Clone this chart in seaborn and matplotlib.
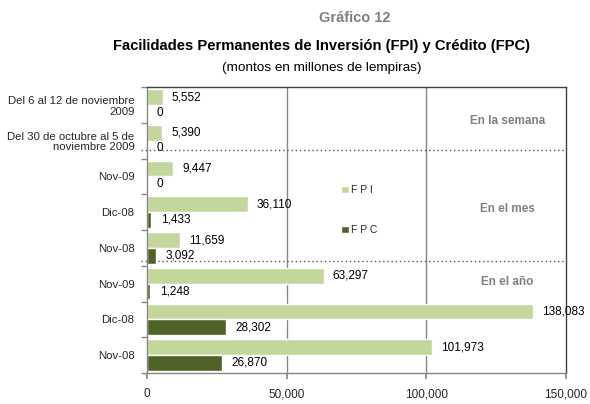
import matplotlib
matplotlib.use("Agg")
import matplotlib.pyplot as plt
import seaborn as sns
import pandas as pd
from matplotlib.ticker import FuncFormatter, FixedLocator

categories = ["Del 6 al 12 de noviembre\n2009", "Del 30 de octubre al 5 de\nnoviembre 2009",
              "Nov-09", "Dic-08", "Nov-08", "Nov-09", "Dic-08", "Nov-08"]
fpi = [5552, 5390, 9447, 36110, 11659, 63297, 138083, 101973]
fpc = [0, 0, 0, 1433, 3092, 1248, 28302, 26870]
series = ["F P I", "F P C"]
sections = ["En la semana", "En el mes", "En el año"]
xticks = [0, 50000, 100000, 150000]

keys = [f"r{i}" for i in range(len(categories))]
df = pd.DataFrame({
    "row": keys * 2,
    "serie": [series[0]] * len(keys) + [series[1]] * len(keys),
    "valor": fpi + fpc,
})

sns.set_theme(style="white")
plt.rcParams['font.family'] = ['Liberation Sans', 'DejaVu Sans']

fig = plt.figure(figsize=(5.9, 4.04), dpi=100)
ax = fig.add_axes([147/590, 1-373/404, (566-147)/590, (373-87)/404])

colors = {"F P I": "#C3D69B", "F P C": "#4F6228"}
sns.barplot(data=df, y="row", x="valor", hue="serie", order=keys, hue_order=series,
            orient="h", palette=colors, width=0.88, saturation=1, ax=ax, gap=0)

for cont, pad in zip(ax.containers, [6.5, 7]):
    ax.bar_label(cont, labels=[f"{v:,.0f}" for v in cont.datavalues], padding=pad,
                 fontsize=8.5, color="#000000")

ax.set_xlim(0, 150000)
ax.set_ylim(len(keys) - 0.5, -0.5)
ax.xaxis.set_major_locator(FixedLocator(xticks))
ax.xaxis.set_major_formatter(FuncFormatter(lambda v, p: f"{v:,.0f}"))
ax.set_yticks(range(len(keys)))
ax.set_yticklabels(categories, fontsize=8.2, linespacing=1.1)
ax.set_yticks([i - 0.5 for i in range(len(keys) + 1)], minor=True)
ax.tick_params(axis="y", which="major", length=0, pad=9)
ax.tick_params(axis="y", which="minor", length=4, color="#868686", width=1, direction="out", left=True)
ax.tick_params(axis="x", length=4, color="#868686", direction="out", bottom=True, pad=7, labelsize=8.5)
ax.set_xlabel("")
ax.set_ylabel("")

for x in xticks[1:3]:
    ax.axvline(x, color="#868686", lw=1, zorder=0)

for s in ["left", "bottom"]:
    ax.spines[s].set_color("#868686")
for s in ["top", "right"]:
    ax.spines[s].set_color("#404040")
for s in ax.spines.values():
    s.set_linewidth(1)

for yv in [1.25, 4.36]:
    ax.plot([-0.015, 1.0], [yv, yv], transform=ax.get_yaxis_transform(), ls=(0, (1, 2)),
            color="#595959", lw=1, clip_on=False, zorder=3)

for yv, txt in zip([0.45, 2.9, 4.95], sections):
    ax.text(129000, yv, txt, ha="center", va="center", fontsize=8.5, fontweight="bold", color="#808080")

ax.legend(loc="upper left", bbox_to_anchor=(0.44, 0.69), frameon=False, fontsize=7.5,
          handlelength=0.75, handleheight=0.75, handletextpad=0.2, labelspacing=2.9)

fig.text(355/590, 1-18/404, "Gráfico 12", ha="center", va="center", fontsize=10.5,
         fontweight="bold", color="#7F7F7F")
fig.text(322/590, 1-46/404, "Facilidades Permanentes de Inversión (FPI) y Crédito (FPC)",
         ha="center", va="center", fontsize=10.6, fontweight="bold", color="#000000")
fig.text(322/590, 1-68/404, "(montos en millones de lempiras)", ha="center", va="center",
         fontsize=9.7, color="#000000")

fig.savefig("out.png", dpi=100)
